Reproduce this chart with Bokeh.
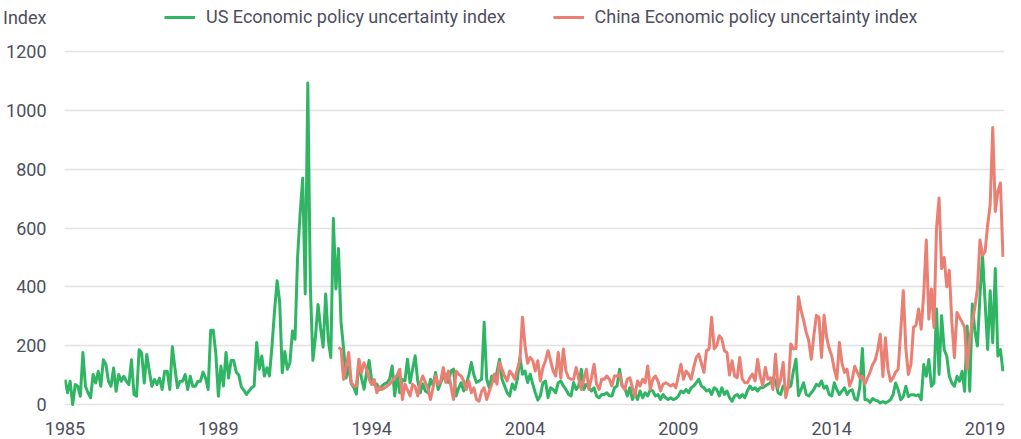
from bokeh.plotting import figure
from bokeh.models import ColumnDataSource, Range1d, FixedTicker
from bokeh.embed import file_html
from bokeh.resources import INLINE

# ---------------- data ----------------
x_tick_positions = [0, 60, 120, 180, 240, 300, 360]
x_tick_labels = ["1985", "1989", "1994", "2004", "2009", "2014", "2019"]
y_ticks = [0, 200, 400, 600, 800, 1000, 1200]
y_unit_label = "Index"
y_unit_position = 1316

us_name = "US Economic policy uncertainty index"
china_name = "China Economic policy uncertainty index"

us_values = [
    85, 40, 79, 0, 68, 62, 28, 177, 62, 40, 23, 102, 73, 113, 62, 152, 136, 79, 62, 124,
    45, 102, 79, 96, 79, 68, 152, 34, 28, 186, 175, 73, 170, 113, 62, 85, 68, 90, 51, 113,
    113, 51, 196, 124, 57, 79, 79, 102, 51, 96, 62, 62, 79, 79, 110, 90, 51, 252, 252, 175,
    28,
    131, 63, 177, 90, 150, 150, 110, 100, 60, 48,
    34, 46, 57, 63, 211, 120, 165, 97, 125, 97,
    200, 320, 421, 347, 108, 180, 120, 142, 250, 222,
    500, 650, 769, 376, 1093, 400, 150, 230, 340, 260,
    195, 376, 220, 160, 632, 393, 530, 280, 190, 90,
    130, 70, 58, 35, 150, 90, 52, 110, 150, 80,
    68, 70, 50,
    63, 70, 74, 86, 131, 29, 100, 40, 85, 80,
    154, 74, 120, 166, 80, 40, 70, 46, 40, 86,
    65, 109, 51, 74, 95, 103, 75, 114, 120, 29,
    55, 74, 46, 70, 100, 143, 100, 75, 80, 86,
    280, 86, 57, 97, 80, 110, 154, 86, 63, 40,
    29, 70, 51, 86, 160, 103, 114, 75, 103, 70,
    40, 15,
    30, 74, 80, 23, 57, 51, 40, 74, 80, 63,
    51, 35, 29, 75, 51, 63, 120, 51, 69, 57,
    46, 57, 29, 23, 34, 34, 40, 30, 29, 57,
    63, 120, 63, 57, 29, 57, 17, 40, 17, 46,
    23, 40, 29, 51, 46, 29, 34, 17, 34, 23,
    17, 23, 17, 20, 29, 46, 40, 51, 40, 57,
    63, 74,
    86, 63, 57, 46, 51, 34, 57, 51, 29, 57,
    34, 46, 23, 11, 29, 34, 23, 34, 23, 46,
    63, 51, 57, 46, 57, 57, 63, 69, 74, 91,
    80, 40, 34, 63, 51, 57, 63, 114, 154, 30,
    51, 74, 34, 29, 40, 51, 69, 63, 80, 55,
    63, 34, 29, 74, 50, 34, 46, 57, 34, 46,
    50,
    20, 15, 60, 190, 16, 16, 7, 20, 15, 12,
    5, 10, 5, 10, 16, 33, 73, 50, 16, 27,
    62, 27, 33, 33, 30, 33, 16, 136, 96, 153,
    62, 73, 325, 102, 302, 187, 165, 96, 73, 62,
    96, 79, 113, 45, 267, 45, 342, 250, 199, 370,
    507, 350, 187, 387, 210, 462, 165, 187, 113,
]

china_start = 107
china_values = [
    194, 188, 85, 130, 177, 74, 63, 63, 154, 108, 142, 120, 85, 68, 85, 40, 60,
    51, 57, 62, 69, 80, 91, 100, 120, 17, 69,
    50, 29, 69, 60, 29, 75, 97, 75, 55, 17,
    57, 97, 69, 80, 126, 75, 114, 63, 17, 114,
    103, 97, 80, 51, 80, 40, 57, 17, 11, 45,
    57, 17, 45, 70, 103, 69, 143, 120, 97, 80,
    114, 103, 86, 120, 150, 297, 200, 140, 160, 150,
    114, 149,
    80, 126, 149, 183, 149, 114, 97, 177, 90, 189,
    114, 91, 86, 86, 126, 86, 51, 86, 120, 51,
    91, 137, 69, 51, 86, 86, 97, 86, 63, 97,
    97, 103, 63, 51, 86, 91, 57, 29, 80, 63,
    86, 74, 131, 51, 86, 97, 80, 46, 69, 74,
    69, 63, 69, 57, 97, 137, 86, 114, 103, 86,
    126, 160,
    171, 140, 109, 183, 189, 297, 189, 200, 234, 223,
    183, 177, 100, 149, 97, 91, 160, 86, 74, 74,
    91, 103, 80, 154, 97, 63, 126, 86, 91, 51,
    171, 57, 86, 143, 23, 63, 206, 189, 190, 366,
    320, 286, 246, 217, 154, 234, 303, 297, 160, 303,
    229, 190, 166, 120, 86, 211, 140, 109, 120, 63,
    86,
    130, 110, 90, 96, 70, 90, 110, 136, 150, 187,
    239, 95, 227, 120, 79, 90, 110, 120, 250, 387,
    190, 102, 136, 262, 270, 325, 256, 376, 559, 290,
    393, 262, 600, 702, 462, 500, 400, 456, 280, 159,
    313, 296, 280, 262, 119, 222, 280, 330, 393, 559,
    507, 520, 610, 680, 942, 656, 725, 753, 502,
]

# ---------------- styling ----------------
GREEN = "#30b565"
RED = "#ea7f73"
TEXT = "#4e4e5e"
GRID = "#e2e2e2"
FONT = "Roboto"

us_src = ColumnDataSource(dict(x=list(range(len(us_values))), y=us_values))
china_src = ColumnDataSource(dict(
    x=list(range(china_start, china_start + len(china_values))), y=china_values))

p = figure(width=1005, height=437, output_backend="svg", toolbar_location=None,
           x_range=Range1d(-0.2, 367.6), y_range=Range1d(-6.8, 1349.6),
           min_border_left=58, min_border_right=1, min_border_top=7,
           min_border_bottom=31)

p.line("x", "y", source=us_src, color=GREEN, line_width=3, line_join="round",
       legend_label=us_name)
p.line("x", "y", source=china_src, color=RED, line_width=3, line_join="round",
       legend_label=china_name)

p.outline_line_color = None
p.background_fill_color = "white"
p.border_fill_color = "white"

p.xgrid.visible = False
p.ygrid.ticker = FixedTicker(ticks=y_ticks)
p.ygrid.grid_line_color = GRID
p.ygrid.grid_line_width = 1.5

p.yaxis.ticker = FixedTicker(ticks=y_ticks + [y_unit_position])
p.yaxis.major_label_overrides = {y_unit_position: y_unit_label}
p.yaxis.axis_line_color = None
p.yaxis.major_tick_line_color = None
p.yaxis.minor_tick_line_color = None
p.yaxis.major_label_standoff = 12
p.yaxis.major_label_text_font = FONT
p.yaxis.major_label_text_font_size = "18px"
p.yaxis.major_label_text_color = TEXT

p.xaxis.ticker = FixedTicker(ticks=x_tick_positions)
p.xaxis.major_label_overrides = {t: l for t, l in zip(x_tick_positions, x_tick_labels)}
p.xaxis.axis_line_color = None
p.xaxis.major_tick_line_color = None
p.xaxis.minor_tick_line_color = None
p.xaxis.major_label_standoff = 9
p.xaxis.major_label_text_font = FONT
p.xaxis.major_label_text_font_size = "18px"
p.xaxis.major_label_text_color = TEXT

lg = p.legend[0]
lg.location = (100, 379)
lg.orientation = "horizontal"
lg.glyph_width = 31
lg.glyph_height = 20
lg.label_standoff = 11
lg.spacing = 47
lg.padding = 0
lg.margin = 0
lg.border_line_alpha = 0
lg.background_fill_alpha = 0
lg.label_text_font = FONT
lg.label_text_font_size = "18px"
lg.label_text_color = TEXT

open("out.html", "w").write(file_html(p, INLINE))
